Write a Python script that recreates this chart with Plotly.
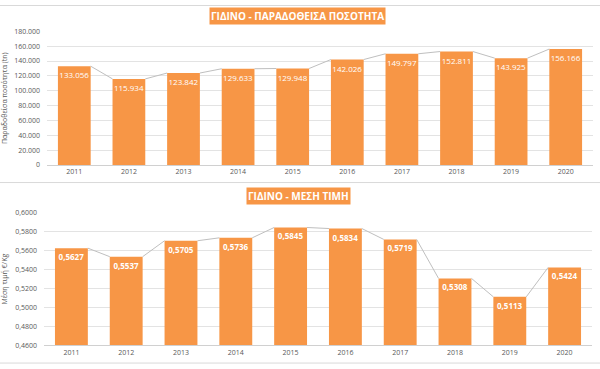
import plotly.graph_objects as go

years = [2011, 2012, 2013, 2014, 2015, 2016, 2017, 2018, 2019, 2020]
quantity = [133056, 115934, 123842, 129633, 129948, 142026, 149797, 152811, 143925, 156166]
price = [0.5627, 0.5537, 0.5705, 0.5736, 0.5845, 0.5834, 0.5719, 0.5308, 0.5113, 0.5424]
title_top = "ΓΙΔΙΝΟ - ΠΑΡΑΔΟΘΕΙΣΑ ΠΟΣΟΤΗΤΑ"
title_bottom = "ΓΙΔΙΝΟ - ΜΕΣΗ ΤΙΜΗ"
ytitle_top = "Παραδοθείσα ποσότητα (tn)"
ytitle_bottom = "Μέση τιμή €/Kg"

ORANGE = "#F79646"
GREY_TXT = "#595959"
GRID = "#E3E3E3"
LINE = "#BFBFBF"
FONT = "Open Sans"
BW = 0.6
H = 369


def connector(vals):
    xs, ys = [], []
    for i in range(len(years) - 1):
        xs += [years[i] + BW / 2, years[i + 1] - BW / 2, None]
        ys += [vals[i], vals[i + 1], None]
    return xs, ys


fig = go.Figure()

fig.add_trace(go.Bar(x=years, y=quantity, width=BW, marker=dict(color=ORANGE, line=dict(width=0)),
                     texttemplate="%{y:,d}", textposition="inside", insidetextanchor="end",
                     textangle=0, constraintext="none",
                     textfont=dict(color="white", size=8, family=FONT), cliponaxis=False,
                     xaxis="x", yaxis="y", hoverinfo="skip"))
cx, cy = connector(quantity)
fig.add_trace(go.Scatter(x=cx, y=cy, mode="lines", line=dict(color=LINE, width=1),
                         xaxis="x", yaxis="y", hoverinfo="skip"))

fig.add_trace(go.Bar(x=years, y=price, width=BW, marker=dict(color=ORANGE, line=dict(width=0)),
                     texttemplate="<b>%{y:.4f}</b>", textposition="inside", insidetextanchor="end",
                     textangle=0, constraintext="none",
                     textfont=dict(color="white", size=8, family=FONT), cliponaxis=False,
                     xaxis="x2", yaxis="y2", hoverinfo="skip"))
cx2, cy2 = connector(price)
fig.add_trace(go.Scatter(x=cx2, y=cy2, mode="lines", line=dict(color=LINE, width=1),
                         xaxis="x2", yaxis="y2", hoverinfo="skip"))

tickfont = dict(color=GREY_TXT, size=7, family=FONT)

fig.update_layout(
    width=600, height=H, margin=dict(l=0, r=0, t=0, b=0),
    paper_bgcolor="white", plot_bgcolor="white", showlegend=False,
    separators=",.", bargap=0.4,
    xaxis=dict(domain=[47 / 600, 593 / 600], range=[2010.5, 2020.5], tickvals=years,
               tickfont=tickfont, showgrid=False, showline=True, linecolor="#D0D0D0",
               ticks="", anchor="y", zeroline=False),
    yaxis=dict(domain=[1 - 164 / H, 1 - 27 / H], range=[0, 180000], dtick=20000,
               tickformat=",d", tickfont=tickfont, gridcolor=GRID, zeroline=False,
               showline=False, anchor="x", ticklabelstandoff=6,
               title=dict(text=ytitle_top, font=dict(color=GREY_TXT, size=7, family=FONT), standoff=6)),
    xaxis2=dict(domain=[44 / 600, 592 / 600], range=[2010.5, 2020.5], tickvals=years,
                tickfont=tickfont, showgrid=False, showline=True, linecolor="#D0D0D0",
                ticks="", anchor="y2", zeroline=False),
    yaxis2=dict(domain=[1 - 349 / H, 1 - 213 / H], range=[0.46, 0.60], dtick=0.02,
                tickformat=".4f", tickfont=tickfont, gridcolor=GRID, zeroline=False,
                showline=False, anchor="x2", ticklabelstandoff=6,
                title=dict(text=ytitle_bottom, font=dict(color=GREY_TXT, size=7, family=FONT), standoff=6)),
    annotations=[
        dict(text="<b>" + title_top + "</b>", x=297 / 600, y=1 - 11 / H, xref="paper", yref="paper",
             showarrow=False, bgcolor=ORANGE, font=dict(color="white", size=10, family=FONT),
             borderpad=1, xanchor="center", yanchor="middle"),
        dict(text="<b>" + title_bottom + "</b>", x=298 / 600, y=1 - 196 / H, xref="paper", yref="paper",
             showarrow=False, bgcolor=ORANGE, font=dict(color="white", size=10, family=FONT),
             borderpad=1, xanchor="center", yanchor="middle"),
    ],
    shapes=[
        dict(type="line", xref="paper", yref="paper", x0=0, x1=1, y0=1 - 0.5 / H, y1=1 - 0.5 / H,
             line=dict(color="#D9D9D9", width=1)),
        dict(type="line", xref="paper", yref="paper", x0=0, x1=1, y0=1 - 182 / H, y1=1 - 182 / H,
             line=dict(color="#D9D9D9", width=1)),
        dict(type="line", xref="paper", yref="paper", x0=0, x1=1, y0=1 - 367 / H, y1=1 - 367 / H,
             line=dict(color="#D9D9D9", width=1)),
    ],
)

fig.write_html("out.html", config={"displayModeBar": False, "staticPlot": True},
               post_script="document.body.style.margin='0px';document.body.style.overflow='hidden';")
